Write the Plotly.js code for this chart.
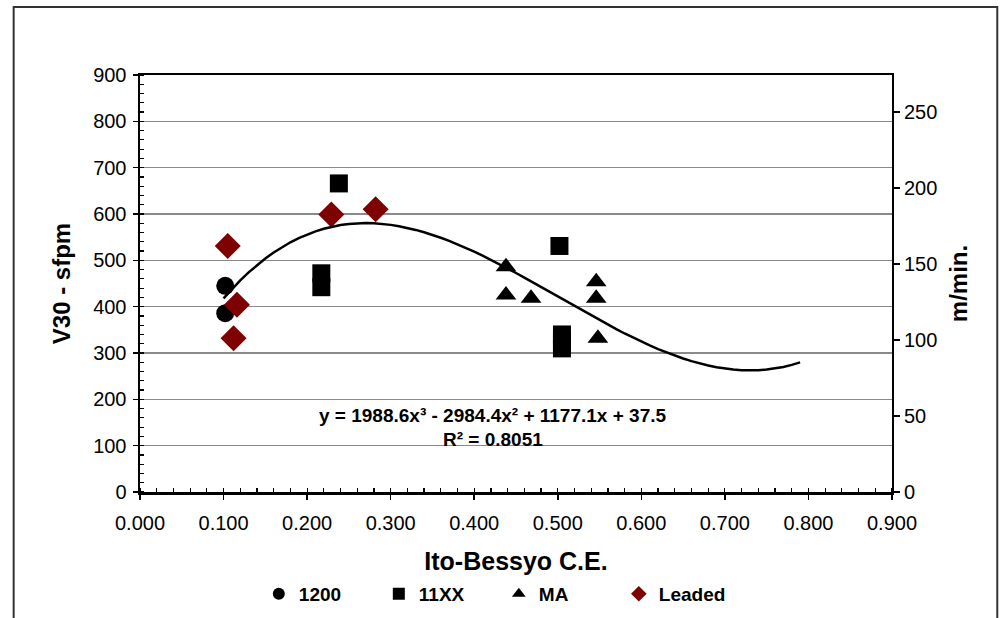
<!DOCTYPE html>
<html>
<head>
<meta charset="utf-8">
<script src="https://cdn.plot.ly/plotly-3.0.1.min.js"></script>
<style>html,body{margin:0;padding:0;background:#fff;}#chart{width:1000px;height:618px;}</style>
</head>
<body>
<div id="chart"></div>
<script>
// Data (Ito-Bessyo C.E. vs V30 in sfpm)
const x1200 = [0.102, 0.102];
const y1200 = [445, 386];

const x11XX = [0.217, 0.217, 0.238, 0.502, 0.505, 0.505, 0.505];
const y11XX = [472, 442, 666, 531, 340, 324, 310];

const xMA = [0.438, 0.438, 0.468, 0.546, 0.546, 0.548];
const yMA = [486, 425, 418, 454, 418, 332];

const xLeaded = [0.105, 0.116, 0.112, 0.229, 0.282];
const yLeaded = [531, 404, 332, 599, 610];

// Trendline (m/min) coefficients as shown on the chart: y = a3 x^3 + a2 x^2 + a1 x + a0
const trendCoef = [1988.6, -2984.4, 1177.1, 37.5];
const trendRange = [0.1, 0.79];

const trendX = [], trendY = [];
for (let i = 0; i <= 69; i++) {
  const x = trendRange[0] + (trendRange[1] - trendRange[0]) * i / 69;
  trendX.push(x);
  trendY.push(trendCoef[0]*x*x*x + trendCoef[1]*x*x + trendCoef[2]*x + trendCoef[3]);
}

const FONT = 'Liberation Sans, Arial, sans-serif';
const traces = [
  {x: trendX, y: trendY, yaxis: 'y2', mode: 'lines', line: {color: '#000', width: 2.5}, showlegend: false, hoverinfo: 'skip'},
  {x: x1200, y: y1200, name: '1200', mode: 'markers', type: 'scatter', marker: {symbol: 'circle', size: 18, color: '#000'}},
  {x: x11XX, y: y11XX, name: '11XX', mode: 'markers', type: 'scatter', marker: {symbol: 'square', size: 18, color: '#000'}},
  {x: xMA, y: yMA, name: 'MA', mode: 'markers', type: 'scatter', marker: {symbol: 'triangle-up', size: 18, color: '#000'}},
  {x: xLeaded, y: yLeaded, name: 'Leaded', mode: 'markers', type: 'scatter', marker: {symbol: 'diamond', size: 20, color: '#7f0000'}}
];

const layout = {
  width: 1000, height: 618,
  margin: {l: 140, r: 108, t: 75, b: 126},
  paper_bgcolor: '#fff', plot_bgcolor: '#fff',
  font: {family: FONT, size: 20, color: '#000'},
  showlegend: true,
  legend: {orientation: 'h', x: 0.158, xanchor: 'left', yref: 'container', y: 0.039, yanchor: 'middle',
           font: {family: FONT, size: 19, color: '#000', weight: 'bold'}, itemsizing: 'constant',
           entrywidth: 75, entrywidthmode: 'pixels', itemwidth: 30, traceorder: 'normal'},
  xaxis: {
    range: [0, 0.9], dtick: 0.1, tick0: 0, tickformat: '.3f', automargin: false,
    showgrid: false, zeroline: false,
    showline: true, linecolor: '#000', linewidth: 2.5, mirror: true,
    ticks: 'outside', ticklen: 5, tickcolor: '#000', tickwidth: 1.5, ticklabelstandoff: 6,
    minor: {dtick: 0.02, ticks: 'inside', ticklen: 4, tickcolor: '#000', tickwidth: 1.2},
    tickfont: {family: FONT, size: 20},
    title: {text: 'Ito-Bessyo C.E.', font: {family: FONT, size: 25, weight: 'bold'}, standoff: 32}
  },
  yaxis: {
    range: [0, 900], dtick: 100, tick0: 0, automargin: false,
    showgrid: true, gridcolor: '#8a8a8a', gridwidth: 1.5, zeroline: false,
    showline: true, linecolor: '#000', linewidth: 2.5,
    ticks: 'outside', ticklen: 5, tickcolor: '#000', tickwidth: 1.5, ticklabelstandoff: 2,
    minor: {dtick: 20, ticks: 'inside', ticklen: 4, tickcolor: '#000', tickwidth: 1.2, showgrid: false},
    tickfont: {family: FONT, size: 20},
    title: {text: 'V30 - sfpm', font: {family: FONT, size: 24, weight: 'bold'}, standoff: 16}
  },
  yaxis2: {
    overlaying: 'y', side: 'right', range: [0, 900 * 0.3048], dtick: 50, tick0: 0, automargin: false,
    showgrid: false, zeroline: false,
    showline: true, linecolor: '#000', linewidth: 2,
    ticks: 'outside', ticklen: 6, tickcolor: '#000', tickwidth: 1.5,
    tickfont: {family: FONT, size: 20},
    title: {text: 'm/min.', font: {family: FONT, size: 24, weight: 'bold'}, standoff: 14}
  },
  annotations: [
    {xref: 'paper', yref: 'paper', x: 0.469, y: 0.153, showarrow: false,
     text: 'y = 1988.6x³ - 2984.4x² + 1177.1x + 37.5', font: {family: FONT, size: 19, weight: 'bold'}},
    {xref: 'paper', yref: 'paper', x: 0.469, y: 0.095, showarrow: false,
     text: 'R² = 0.8051', font: {family: FONT, size: 19, weight: 'bold'}}
  ],
  shapes: [
    {type: 'rect', xref: 'paper', yref: 'paper', x0: -0.168, x1: 1.14, y0: -0.5, y1: 1.163,
     line: {color: '#333', width: 2}, fillcolor: 'rgba(0,0,0,0)', layer: 'below'}
  ]
};

Plotly.newPlot('chart', traces, layout, {displayModeBar: false, staticPlot: true});
</script>
</body>
</html>
